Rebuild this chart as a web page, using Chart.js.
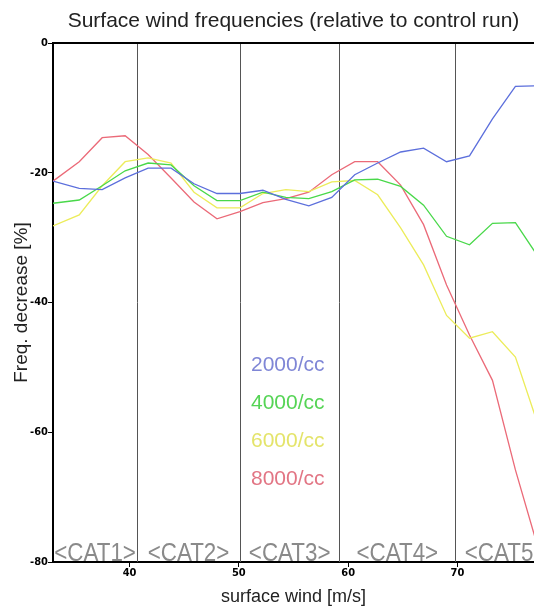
<!DOCTYPE html>
<html><head><meta charset="utf-8">
<script src="https://cdn.jsdelivr.net/npm/chart.js@4.4.0/dist/chart.umd.min.js"></script>
<style>html,body{margin:0;padding:0;background:#fff}#wrap{width:534px;height:611px;position:relative}</style>
</head><body><div id="wrap"><canvas id="c"></canvas></div>
<script>
// ---- data ----
const windSpeed = [33.0, 35.4, 37.5, 39.6, 41.7, 43.8, 45.9, 48.0, 50.1, 52.2, 54.3, 56.4, 58.5, 60.6, 62.7, 64.8, 66.9, 69.0, 71.1, 73.2, 75.3, 77.4];
const freq2000 = [-21.3, -22.4, -22.6, -20.8, -19.3, -19.3, -21.7, -23.2, -23.2, -22.7, -24.1, -25.1, -23.8, -20.3, -18.5, -16.8, -16.2, -18.3, -17.4, -11.7, -6.7, -6.6];
const freq4000 = [-24.7, -24.2, -22.0, -19.7, -18.5, -18.8, -22.0, -24.3, -24.3, -23.0, -23.8, -24.0, -22.9, -21.1, -21.0, -22.1, -25.0, -29.8, -31.1, -27.8, -27.7, -33.0];
const freq6000 = [-28.2, -26.5, -22.0, -18.3, -17.7, -18.5, -23.0, -25.4, -25.4, -23.2, -22.6, -22.9, -21.4, -21.2, -23.4, -28.5, -34.2, -42.0, -45.5, -44.5, -48.4, -59.0];
const freq8000 = [-21.3, -18.3, -14.6, -14.3, -17.2, -20.8, -24.5, -27.1, -26.0, -24.6, -24.0, -23.0, -20.3, -18.3, -18.3, -21.9, -28.0, -37.3, -45.0, -52.0, -65.8, -78.0];
const seriesNames = ['2000/cc', '4000/cc', '6000/cc', '8000/cc'];
const catEdges = [33, 40.7, 50.1, 59.2, 69.8, 79];
const catLabels = ['<CAT1>', '<CAT2>', '<CAT3>', '<CAT4>', '<CAT5>'];
const xTickValues = [40, 50, 60, 70];
const yTickValues = [-80, -60, -40, -20, 0];

// ---- styles ----
const lineColors = ['#5c6fdc', '#49d84a', '#ecec5a', '#eb6a78'];
const textColors = ['#7f86d6', '#55d455', '#e4e46a', '#e27584'];
const seriesValues = [freq2000, freq4000, freq6000, freq8000];
const tickFont = {family: '"DejaVu Sans Condensed", "Liberation Sans", sans-serif', size: 11, weight: 'bold'};

const datasets = seriesValues.map((vals, i) => ({
  label: seriesNames[i],
  data: windSpeed.map((x, j) => ({x: x, y: vals[j]})),
  borderColor: lineColors[i],
  backgroundColor: lineColors[i],
  borderWidth: 1.3,
  pointRadius: 0,
  tension: 0,
  fill: false
}));

const overlay = {
  id: 'overlay',
  beforeDatasetsDraw(chart) {
    const {ctx, chartArea: a, scales: {x}} = chart;
    ctx.save();
    ctx.strokeStyle = '#555';
    ctx.lineWidth = 1;
    for (let i = 1; i < catEdges.length - 1; i++) {
      const px = Math.round(x.getPixelForValue(catEdges[i])) + 0.5;
      ctx.beginPath(); ctx.moveTo(px, a.top); ctx.lineTo(px, a.bottom); ctx.stroke();
    }
    ctx.font = '26px "Liberation Sans", sans-serif';
    ctx.fillStyle = '#8a8a8a';
    ctx.textAlign = 'center';
    ctx.textBaseline = 'alphabetic';
    for (let i = 0; i < catLabels.length; i++) {
      const cx = x.getPixelForValue((catEdges[i] + catEdges[i + 1]) / 2);
      ctx.save();
      ctx.translate(cx, a.bottom - 1);
      ctx.scale(0.86, 1);
      ctx.fillText(catLabels[i], 0, 0);
      ctx.restore();
    }
    ctx.restore();
  },
  afterDatasetsDraw(chart) {
    const {ctx, chartArea: a} = chart;
    ctx.save();
    ctx.strokeStyle = '#000';
    ctx.lineWidth = 2;
    ctx.beginPath(); ctx.moveTo(a.left - 1, a.top); ctx.lineTo(a.right, a.top); ctx.stroke();
    ctx.font = '21px "Liberation Sans", sans-serif';
    ctx.textAlign = 'left';
    ctx.textBaseline = 'middle';
    for (let i = 0; i < seriesNames.length; i++) {
      ctx.fillStyle = textColors[i];
      ctx.fillText(seriesNames[i], a.left + 198, a.top + 322 + i * 38);
    }
    ctx.restore();
  }
};

new Chart(document.getElementById('c'), {
  type: 'line',
  data: {datasets},
  plugins: [overlay],
  options: {
    responsive: true,
    maintainAspectRatio: false,
    animation: false,
    layout: {padding: {left: 0, right: 0, top: 0, bottom: 0}},
    plugins: {
      legend: {display: false},
      tooltip: {enabled: false},
      title: {
        display: true,
        text: 'Surface wind frequencies (relative to control run)',
        fullSize: false,
        color: '#222',
        font: {family: '"Liberation Sans", sans-serif', size: 21, weight: 'normal', lineHeight: 1.2},
        padding: {top: 9, bottom: 8.8}
      }
    },
    scales: {
      x: {
        type: 'linear',
        min: 33,
        max: 77,
        afterBuildTicks: s => { s.ticks = xTickValues.map(v => ({value: v})); },
        afterFit: s => { s.height = 49; },
        grid: {drawOnChartArea: false, drawTicks: true, tickLength: 5, color: '#000'},
        border: {display: true, color: '#000', width: 2},
        ticks: {padding: 0, color: '#000', font: tickFont, maxRotation: 0},
        title: {
          display: true,
          text: 'surface wind [m/s]',
          color: '#222',
          font: {family: '"Liberation Sans", sans-serif', size: 18},
          padding: {top: 0, bottom: 3}
        }
      },
      y: {
        type: 'linear',
        min: -80,
        max: 0,
        afterBuildTicks: s => { s.ticks = yTickValues.map(v => ({value: v})); },
        afterFit: s => { s.width = 53; },
        grid: {drawOnChartArea: false, drawTicks: true, tickLength: 5, color: '#000'},
        border: {display: true, color: '#000', width: 2},
        ticks: {padding: 0, color: '#000', font: tickFont},
        title: {
          display: true,
          text: 'Freq. decrease [%]',
          color: '#222',
          font: {family: '"Liberation Sans", sans-serif', size: 19},
          padding: {top: 10, bottom: 0}
        }
      }
    }
  }
});
</script>
</body></html>
